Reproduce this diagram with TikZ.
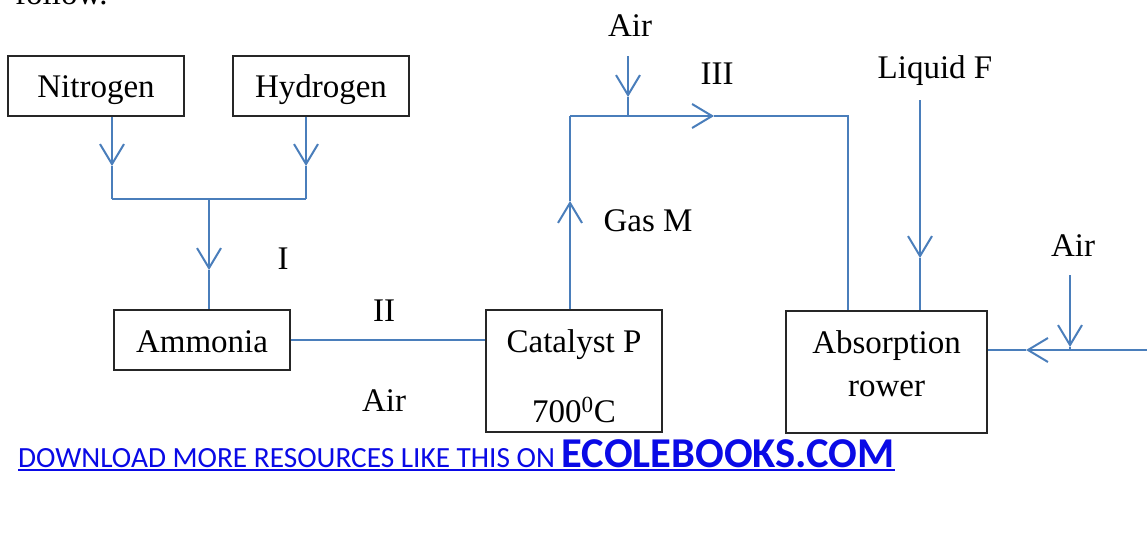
\documentclass[tikz,border=0pt]{standalone}
\usepackage{fontspec}
\setmainfont{Liberation Serif}
\newfontfamily\linkfont{Carlito}
\usetikzlibrary{arrows.meta}
\definecolor{flow}{RGB}{74,126,187}
\definecolor{linkblue}{RGB}{10,10,230}
\tikzset{
  box/.style={draw=black!85, line width=1.3pt, inner sep=0pt, font=\fontsize{33}{37}\selectfont},
  pipe/.style={draw=flow, line width=2pt},
  flowarrow/.style={pipe, -{Straight Barb[length=20pt,width=24pt,line width=2pt]}},
  lbl/.style={font=\fontsize{33}{37}\selectfont, inner sep=0pt},
}
\begin{document}
\begin{tikzpicture}[x=1pt,y=-1pt]
\path[use as bounding box, clip] (0,0) rectangle (1147,533);
\fill[white] (0,0) rectangle (1147,533);

% partially visible text at top
\node[lbl, anchor=base west] (follow) at (15,4) {follow.};

% boxes
\node[box, minimum width=176pt, minimum height=60pt] (nit) at (96,86) {};
\node[lbl, anchor=base] (nittxt) at (96,97) {Nitrogen};
\node[box, minimum width=176pt, minimum height=60pt] (hyd) at (321,86) {};
\node[lbl, anchor=base] (hydtxt) at (321,97) {Hydrogen};
\node[box, minimum width=176pt, minimum height=60pt] (amm) at (202,340) {};
\node[lbl, anchor=base] (ammtxt) at (202,352) {Ammonia};
\node[box, minimum width=176pt, minimum height=122pt] (cat) at (574,371) {};
\node[lbl, anchor=base] (cattxt1) at (574,352) {Catalyst P};
\node[lbl, anchor=base] (cattxt2) at (574,422) {700\textsuperscript{0}C};
\node[box, minimum width=201pt, minimum height=122pt] (abs) at (886.5,372) {};
\node[lbl, anchor=base] (abstxt1) at (886.5,353) {Absorption};
\node[lbl, anchor=base] (abstxt2) at (886.5,396) {rower};

% coordinates
\coordinate (jn) at (112,199);
\coordinate (jh) at (306,199);
\coordinate (jm) at (209,199);
\coordinate (tipN) at (112,166);
\coordinate (tipH) at (306,166);
\coordinate (tipI) at (209,270);

\coordinate (gasTip) at (570,201);
\coordinate (cornerL) at (570,116);
\coordinate (airTopStart) at (628,56);
\coordinate (airTopTip) at (628,97);
\coordinate (airTopJ) at (628,116);
\coordinate (topTip) at (714,116);
\coordinate (cornerR) at (848,116);

\coordinate (liqStart) at (920,100);
\coordinate (liqTip) at (920,258);

\coordinate (rightEnd) at (1147,350);
\coordinate (rightTip) at (1026,350);
\coordinate (airRStart) at (1070,275);
\coordinate (airRTip) at (1070,347);
\coordinate (airRJ) at (1070,350);

% Nitrogen / Hydrogen to Ammonia
\draw[flowarrow] (nit.south -| jn) -- (tipN);
\draw[pipe] (tipN) -- (jn);
\draw[flowarrow] (hyd.south -| jh) -- (tipH);
\draw[pipe] (tipH) -- (jh);
\draw[pipe] (jn) -- (jh);
\draw[flowarrow] (jm) -- (tipI);
\draw[pipe] (tipI) -- (amm.north -| jm);

% Ammonia to Catalyst
\draw[pipe] (amm.east) -- (cat.west |- amm.east);

% Gas M
\draw[flowarrow] (cat.north -| cornerL) -- (gasTip);
\draw[pipe] (gasTip) -- (cornerL);
\draw[flowarrow] (cornerL) -- (topTip);
\draw[pipe] (topTip) -- (cornerR) -- (abs.north -| cornerR);
\draw[flowarrow] (airTopStart) -- (airTopTip);
\draw[pipe] (airTopTip) -- (airTopJ);

% Liquid F
\draw[flowarrow] (liqStart) -- (liqTip);
\draw[pipe] (liqTip) -- (abs.north -| liqTip);

% right air
\draw[flowarrow] (rightEnd) -- (rightTip);
\draw[pipe] (rightTip) -- (abs.east |- rightTip);
\draw[flowarrow] (airRStart) -- (airRTip);
\draw[pipe] (airRTip) -- (airRJ);

% labels
\node[lbl] (lI) at (283,259) {I};
\node[lbl] (lII) at (384,311) {II};
\node[lbl] (lAir1) at (384,401) {Air};
\node[lbl] (lAir2) at (630,26) {Air};
\node[lbl] (lIII) at (717,74) {III};
\node[lbl] (lGas) at (648,221) {Gas M};
\node[lbl] (lLiq) at (935,71) {Liquid F};
\node[lbl] (lAir3) at (1073,246) {Air};

% link
\node[anchor=base west, inner sep=0pt, text=linkblue, font=\linkfont\fontsize{29.3}{32}\selectfont] (link) at (18,467)
  {DOWNLOAD MORE RESOURCES LIKE THIS ON {\bfseries\fontsize{42.5}{44}\selectfont ECOLEBOOKS.COM}};
\draw[linkblue, line width=2.5pt] ([yshift=-3pt]link.base west) -- ([yshift=-3pt]link.base east);
\end{tikzpicture}
\end{document}
